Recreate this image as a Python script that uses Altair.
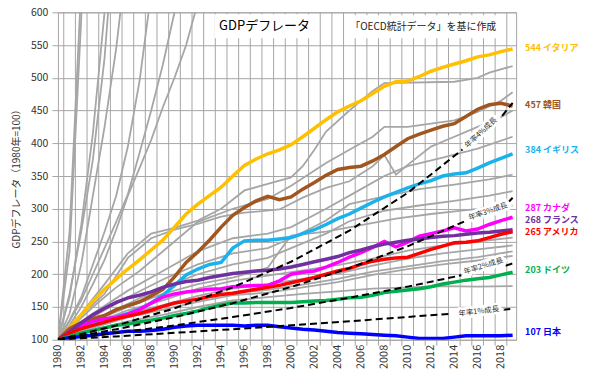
import altair as alt
import pandas as pd

# ---------------- data ----------------
years = list(range(1980, 2020))

italy   = [100,118,138,159,177,193,208,222,237,252,272,292,307,320,333,350,366,376,384,390,
           398,410,423,436,448,457,465,476,487,494,495,502,510,516,521,526,532,535,540,544]
korea   = [100,117,126,132,137,146,152,158,167,177,196,218,234,252,272,290,302,312,319,314,
           318,330,340,351,360,363,365,373,383,395,407,414,420,426,430,441,452,459,461,457]
uk      = [100,110,118,124,129,135,140,147,156,168,183,199,208,215,218,240,251,252,252,254,
           256,262,268,276,285,292,301,310,318,325,332,338,343,350,353,355,362,370,377,384]
canada  = [100,112,122,128,132,134,139,146,156,165,170,173,175,177,178,181,182,183,183,190,
           200,203,205,211,218,226,233,241,250,242,249,258,262,266,271,266,269,276,282,287]
france  = [100,112,126,138,148,157,164,168,173,180,185,189,191,195,198,201,203,205,206,208,
           211,215,219,223,227,233,237,242,246,249,252,254,256,258,259,261,263,264,266,268]
usa     = [100,110,117,122,127,132,136,140,145,151,156,159,162,166,169,171,174,177,180,183,
           187,191,195,200,205,209,215,220,223,225,226,232,238,243,248,249,251,256,261,265]
germany = [100,105,110,114,118,122,124,127,130,133,137,140,144,149,153,156,156,157,157,157,
           157,158,159,160,162,164,165,168,172,174,176,178,181,185,188,191,193,195,199,203]
japan   = [100,103,105,107,109,111,113,113,114,116,119,121,122,122,122,122,121,122,122,120,
           118,116,115,113,111,110,109,108,107,106,104,102,102,102,104,106,106,106,106,107]

names  = ["イタリア", "韓国", "イギリス", "カナダ", "フランス", "アメリカ", "ドイツ", "日本"]
colors = ["#FFC000", "#A0561E", "#19B2EC", "#FF00FF", "#7030A0", "#FF0000", "#00B050", "#0000FF"]
ends   = [544, 457, 384, 287, 268, 265, 203, 107]
label_at = [546, 458, 389, 300.5, 282.5, 264.5, 207, 112]   # vertical placement of the end labels

year_ticks = years[::2]   # 1980, 1982, ..., 2018

# other OECD countries (grey), (year, value) pairs
gray_lines = [
    [(1980,100),(1981,265),(1982,640)],
    [(1980,100),(1981,235),(1982,590),(1983,1100)],
    [(1980,100),(1981,165),(1982,275),(1983,415),(1984,600),(1985,850)],
    [(1980,100),(1981,170),(1982,265),(1983,375),(1984,530),(1985,760)],
    [(1980,100),(1981,140),(1982,215),(1983,320),(1984,425),(1985,545),(1986,700)],
    [(1980,100),(1981,130),(1982,165),(1983,215),(1984,265),(1985,320),(1986,395),(1987,495),(1988,630)],
    [(1980,100),(1981,128),(1982,160),(1983,200),(1984,240),(1985,280),(1986,322),(1987,385),(1988,450),
     (1989,520),(1990,600),(1991,690)],
    [(1980,100),(1981,122),(1982,150),(1983,185),(1984,222),(1985,268),(1986,320),(1987,362),(1988,405),
     (1989,455),(1990,500),(1991,550),(1992,615)],
    [(1980,100),(1982,140),(1984,185),(1986,232),(1988,262),(1990,271),(1992,282),(1994,300),(1996,328),
     (1998,338),(2000,348),(2001,365),(2002,390),(2003,418),(2005,450),(2007,480),(2008,492),(2014,494),
     (2016,500),(2017,508),(2019,518)],
    [(1980,100),(1982,138),(1984,170),(1986,225),(1988,255),(1990,268),(1992,277),(1994,288),(1996,294),
     (1999,299),(2001,317),(2003,332),(2005,342),(2007,365),(2008,382),(2009,352),(2010,367),(2012,395),
     (2014,410),(2016,425),(2018,440),(2019,450)],
    [(1980,100),(1983,150),(1985,180),(1987,205),(1990,250),(1992,280),(1995,300),(1998,315),(2000,335),
     (2003,370),(2005,390),(2007,410),(2008,425),(2010,425),(2012,430),(2014,435),(2016,448),(2018,465),
     (2019,478)],
    [(1980,100),(1983,140),(1986,175),(1989,205),(1992,235),(1995,255),(1998,262),(2000,272),(2003,300),
     (2006,330),(2008,350),(2010,365),(2013,378),(2016,392),(2019,410)],
    [(1980,100),(1983,135),(1986,165),(1989,192),(1992,215),(1995,232),(1998,240),(2000,255),(2003,282),
     (2005,307),(2008,319),(2011,330),(2014,337),(2017,345),(2019,352)],
    [(1980,100),(1983,130),(1986,155),(1989,180),(1992,200),(1995,215),(1998,225),(2000,240),(2003,262),
     (2005,281),(2008,297),(2011,305),(2014,312),(2017,320),(2019,327)],
    [(1980,100),(1983,128),(1986,150),(1989,170),(1992,185),(1995,195),(1998,210),(1999,235),(2000,259),
     (2003,265),(2006,275),(2009,285),(2012,292),(2015,298),(2019,305)],
    [(1980,100),(1983,125),(1986,145),(1989,160),(1992,178),(1995,190),(1998,198),(2001,206),(2004,214),
     (2007,224),(2010,236),(2013,244),(2016,250),(2019,256)],
    [(1980,100),(1983,122),(1986,140),(1989,153),(1992,167),(1995,178),(1998,185),(2001,193),(2004,201),
     (2007,213),(2010,224),(2013,232),(2016,238),(2019,244)],
    [(1980,100),(1983,118),(1986,134),(1989,146),(1992,158),(1995,168),(1998,172),(2001,180),(2004,188),
     (2007,199),(2010,208),(2013,215),(2016,221),(2019,228)],
    [(1980,100),(1983,115),(1986,128),(1989,138),(1992,150),(1995,160),(1998,165),(2001,170),(2004,174),
     (2007,178),(2010,180),(2013,182),(2016,181),(2019,182)],
    [(1980,100),(1983,120),(1986,137),(1989,150),(1992,163),(1995,172),(1998,176),(2001,184),(2004,193),
     (2007,204),(2010,212),(2013,220),(2016,226),(2019,235)],
]

# annual-growth reference lines (dashed): visible part + short tail
growth_names = ["1", "2", "3", "4"]
growth_main = [
    [(1980,100),(1985,105.1),(1990,110.5),(1995,116.1),(2000,122.0),(2005,128.2),(2010,134.8),(2013.6,139.6)],
    [(1980,100),(1985,110.4),(1990,121.9),(1995,134.6),(2000,148.6),(2005,164.1),(2010,181.1),(2014.6,198.4)],
    [(1980,100),(1985,115.9),(1990,134.4),(1995,155.8),(2000,180.6),(2005,209.4),(2010,242.7),(2015.1,282.6)],
    [(1980,100),(1985,121.7),(1990,148.0),(1995,180.1),(2000,219.1),(2005,266.6),(2010,324.3),(2014.7,390.5)],
]
growth_tail = [
    [(2018.2,145.8),(2019,147.5)],
    [(2018.4,213.1),(2019,216.5)],
    [(2018.7,311.2),(2019,316.8)],
    [(2018.1,442.0),(2019,461.6)],
]
growth_text  = ["年率1%成長", "年率2%成長", "年率3%成長", "年率4%成長"]
growth_lx    = [2016.1, 2016.5, 2016.9, 2016.3]
growth_ly    = [142.8, 212.2, 295.5, 416.0]
growth_angle = [353, 343, 341, 317]

# ---------------- frames ----------------
hl = pd.DataFrame([
    {"country": n, "year": y, "value": v}
    for n, s in zip(names, [italy, korea, uk, canada, france, usa, germany, japan])
    for y, v in zip(years, s)
])
gr = pd.DataFrame([
    {"id": i, "year": y, "value": v}
    for i, line in enumerate(gray_lines) for (y, v) in line
])
gd = pd.DataFrame(
    [{"id": f"m{g}", "year": y, "value": v} for g, line in zip(growth_names, growth_main) for (y, v) in line] +
    [{"id": f"t{g}", "year": y, "value": v} for g, line in zip(growth_names, growth_tail) for (y, v) in line]
)
glab = pd.DataFrame({"text": growth_text, "year": growth_lx, "value": growth_ly, "angle": growth_angle})
endlab = pd.DataFrame({
    "label": [f"{e} {n}" for e, n in zip(ends, names)],
    "value": label_at, "country": names,
})
vgrid = pd.DataFrame({"year": [y + 0.5 for y in years[:-1]]})
ylab = pd.DataFrame({"year": year_ticks, "text": [str(y) for y in year_ticks],
                     "angle": [269.5] * len(year_ticks)})

W, H = 459, 328
FONT = "Noto Sans CJK JP"
GRID = "#A6A6A6"

xs = alt.Scale(domain=[1980, 2019.3], nice=False, zero=False)
ys = alt.Scale(domain=[100, 600], nice=False, zero=False)
cscale = alt.Scale(domain=names, range=colors)

x_axis = alt.Axis(values=year_ticks, labels=False, grid=False, ticks=False, domain=False, title=None)
y_axis = alt.Axis(values=list(range(100, 601, 50)), grid=True, gridColor=GRID, tickColor=GRID,
                  tickSize=6, domain=False, labelFontSize=10.5, labelColor="#333333", labelFont=FONT,
                  labelPadding=4,
                  title="GDPデフレータ（1980年=100）", titleFont=FONT, titleFontSize=10,
                  titleFontWeight="normal", titleColor="#333333", titleAngle=270,
                  titleX=-41, titleY=H / 2, titleAlign="center", titleBaseline="middle")

X = lambda: alt.X("year:Q", scale=xs, axis=x_axis)
Y = lambda: alt.Y("value:Q", scale=ys, axis=y_axis)

vlines = alt.Chart(vgrid).mark_rule(color=GRID, strokeWidth=1).encode(
    x=X(), y=alt.value(0), y2=alt.value(H + 6)
)
year_text = alt.Chart(ylab).mark_text(font=FONT, fontSize=11, color="#333333",
                                       align="right", baseline="middle").encode(
    x=X(), y=alt.value(H + 5), text="text:N", angle=alt.Angle("angle:Q", scale=None)
)

title_box = alt.Chart(pd.DataFrame({"a": [0]})).mark_rect(color="white").encode(
    x=alt.value(157), x2=alt.value(259), y=alt.value(2), y2=alt.value(26)
)
src_box = alt.Chart(pd.DataFrame({"a": [0]})).mark_rect(color="white").encode(
    x=alt.value(292), x2=alt.value(440), y=alt.value(3), y2=alt.value(26)
)
title_txt = alt.Chart(pd.DataFrame({"t": ["GDPデフレータ"]})).mark_text(
    font=FONT, fontSize=13, color="#000000", align="center", baseline="middle"
).encode(text="t:N", x=alt.value(207), y=alt.value(14))
src_txt = alt.Chart(pd.DataFrame({"t": ["「OECD統計データ」を基に作成"]})).mark_text(
    font=FONT, fontSize=10, color="#222222", align="center", baseline="middle"
).encode(text="t:N", x=alt.value(366), y=alt.value(15))

gray = alt.Chart(gr).mark_line(color="#A6A6A6", strokeWidth=1.8, clip=True).encode(
    x=X(), y=Y(), detail="id:N"
)
hlines = alt.Chart(hl).mark_line(strokeWidth=3.5, clip=True).encode(
    x=X(), y=Y(),
    color=alt.Color("country:N", scale=cscale, legend=None),
    order=alt.Order("year:Q"),
)
dashed = alt.Chart(gd).mark_line(color="black", strokeWidth=2, strokeDash=[7, 4], clip=True).encode(
    x=X(), y=Y(), detail="id:N"
)
glab_halo = alt.Chart(glab).mark_text(font=FONT, fontSize=7.5, color="white", stroke="white",
                                       strokeWidth=5, align="center", baseline="middle").encode(
    x=X(), y=Y(), text="text:N", angle=alt.Angle("angle:Q", scale=None)
)
glab_txt = alt.Chart(glab).mark_text(font=FONT, fontSize=7.5, color="#333333",
                                      align="center", baseline="middle").encode(
    x=X(), y=Y(), text="text:N", angle=alt.Angle("angle:Q", scale=None)
)
endtxt = alt.Chart(endlab).mark_text(font=FONT, fontSize=9, fontWeight="bold", align="left",
                                      baseline="middle").encode(
    x=alt.value(W + 9), y=Y(), text="label:N",
    color=alt.Color("country:N", scale=cscale, legend=None),
)

chart = alt.layer(
    vlines, gray, hlines, dashed, glab_halo, glab_txt,
    title_box, title_txt, src_box, src_txt, endtxt, year_text
).properties(
    width=W, height=H,
    autosize=alt.AutoSizeParams(type="none"),
    padding={"left": 50, "top": 4, "right": 66, "bottom": 38},
    background="white",
).configure_view(
    stroke=GRID, strokeWidth=1
)

chart.save("out.html", embed_options={"renderer": "svg", "actions": False})
